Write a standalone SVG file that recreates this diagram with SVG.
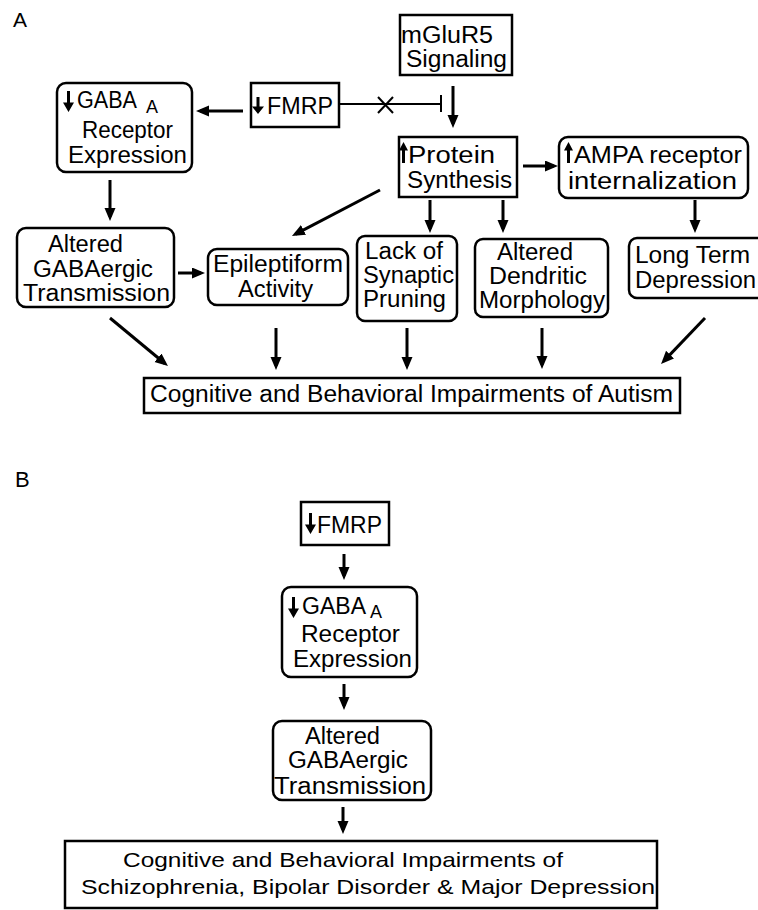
<svg xmlns="http://www.w3.org/2000/svg" width="758" height="910" viewBox="0 0 758 910">
<style>
text{font-family:"Liberation Sans",Arial,sans-serif;font-size:23px;fill:#000}
.box{fill:#fff;stroke:#000;stroke-width:2.5}
.arr{stroke:#000;stroke-width:3;fill:none;marker-end:url(#ah)}
.thin{stroke:#000;stroke-width:2;fill:none}
.sym{fill:#000;stroke:none}
.sub{font-size:18px}
.small{font-size:21px}
</style>
<defs>
<marker id="ah" markerUnits="userSpaceOnUse" markerWidth="14" markerHeight="12" refX="9" refY="5.5" orient="auto">
<path d="M0,0 L13,5.5 L0,11 z" fill="#000"/>
</marker>
</defs>
<rect width="758" height="910" fill="#fff"/>
<text x="13" y="27" style="font-size:21px">A</text>
<text x="15" y="487" style="font-size:22px">B</text>

<g id="connectors">
<line class="arr" x1="243" y1="111" x2="200" y2="111"/>
<line class="arr" x1="453" y1="86" x2="453" y2="124"/>
<line class="thin" x1="340" y1="104" x2="441" y2="104"/>
<line class="thin" x1="441" y1="95" x2="441" y2="112"/>
<line class="thin" x1="378" y1="97" x2="393" y2="113"/>
<line class="thin" x1="378" y1="113" x2="393" y2="97"/>
<line class="arr" x1="523" y1="166" x2="554" y2="166"/>
<line class="arr" x1="380" y1="190" x2="295.5" y2="234.1"/>
<line class="arr" x1="430" y1="200" x2="430" y2="229"/>
<line class="arr" x1="503" y1="200" x2="503" y2="229"/>
<line class="arr" x1="695" y1="200" x2="695" y2="229"/>
<line class="arr" x1="110" y1="180" x2="110" y2="217"/>
<line class="arr" x1="178" y1="273" x2="201" y2="273"/>
<line class="arr" x1="110" y1="318" x2="164.9" y2="363.5"/>
<line class="arr" x1="276" y1="328" x2="276" y2="366"/>
<line class="arr" x1="407" y1="328" x2="407" y2="366"/>
<line class="arr" x1="542" y1="328" x2="542" y2="365"/>
<line class="arr" x1="705" y1="318" x2="663.8" y2="361.1"/>
<line class="arr" x1="344" y1="554" x2="344" y2="576"/>
<line class="arr" x1="344" y1="684" x2="344" y2="706"/>
<line class="arr" x1="343" y1="807" x2="343" y2="830"/>
</g>

<g id="mglur5">
<rect class="box" x="400" y="15" width="112" height="60"/>
<text><tspan x="401" y="43" textLength="92" lengthAdjust="spacingAndGlyphs">mGluR5</tspan><tspan x="406" y="67" textLength="101" lengthAdjust="spacingAndGlyphs">Signaling</tspan></text>
</g>

<g id="fmrp-a">
<rect class="box" x="251" y="83" width="88" height="44"/>
<path class="sym" d="M256.5,97 H259.5 V106.4 H264 L258,114 L252,106.4 H256.5 Z"/>
<text x="267" y="114" textLength="66" lengthAdjust="spacingAndGlyphs">FMRP</text>
</g>

<g id="gaba-a">
<rect class="box" x="57" y="83" width="135" height="89" rx="9"/>
<path class="sym" d="M67,91 H70 V102.6 H74 L68.5,112 L63,102.6 H67 Z"/>
<text><tspan x="77" y="108" textLength="60" lengthAdjust="spacingAndGlyphs">GABA</tspan><tspan class="sub" x="146" y="113">A</tspan><tspan x="82" y="138" textLength="91" lengthAdjust="spacingAndGlyphs">Receptor</tspan><tspan x="68" y="163" textLength="119" lengthAdjust="spacingAndGlyphs">Expression</tspan></text>
</g>

<g id="protein">
<rect class="box" x="399" y="137" width="118" height="60"/>
<path class="sym" d="M403.5,142 L408,150.4 H405 V163 H402 V150.4 H399 Z"/>
<text><tspan x="408" y="163" textLength="87" lengthAdjust="spacingAndGlyphs">Protein</tspan><tspan x="407" y="188" textLength="105" lengthAdjust="spacingAndGlyphs">Synthesis</tspan></text>
</g>

<g id="ampa">
<rect class="box" x="559" y="137" width="189" height="61" rx="9"/>
<path class="sym" d="M568.5,142 L573,150.4 H570 V163 H567 V150.4 H564 Z"/>
<text><tspan x="574" y="163" textLength="168" lengthAdjust="spacingAndGlyphs">AMPA receptor</tspan><tspan x="568" y="189" textLength="169" lengthAdjust="spacingAndGlyphs">internalization</tspan></text>
</g>

<g id="altered-gaba-a">
<rect class="box" x="17" y="228" width="157" height="79" rx="9"/>
<text><tspan x="48" y="252" textLength="75" lengthAdjust="spacingAndGlyphs">Altered</tspan><tspan x="33" y="277" textLength="120" lengthAdjust="spacingAndGlyphs">GABAergic</tspan><tspan x="23" y="301" textLength="147" lengthAdjust="spacingAndGlyphs">Transmission</tspan></text>
</g>

<g id="epileptiform">
<rect class="box" x="208" y="249" width="140" height="56" rx="9"/>
<text><tspan x="213" y="272" textLength="130" lengthAdjust="spacingAndGlyphs">Epileptiform</tspan><tspan x="238" y="297" textLength="75" lengthAdjust="spacingAndGlyphs">Activity</tspan></text>
</g>

<g id="pruning">
<rect class="box" x="357" y="236" width="100" height="85" rx="8"/>
<text><tspan x="365" y="259" textLength="78" lengthAdjust="spacingAndGlyphs">Lack of</tspan><tspan x="363" y="283" textLength="91" lengthAdjust="spacingAndGlyphs">Synaptic</tspan><tspan x="363" y="307" textLength="83" lengthAdjust="spacingAndGlyphs">Pruning</tspan></text>
</g>

<g id="dendritic">
<rect class="box" x="475" y="239" width="133" height="78" rx="8"/>
<text><tspan x="497" y="260" textLength="76" lengthAdjust="spacingAndGlyphs">Altered</tspan><tspan x="489" y="284" textLength="98" lengthAdjust="spacingAndGlyphs">Dendritic</tspan><tspan x="479" y="308" textLength="126" lengthAdjust="spacingAndGlyphs">Morphology</tspan></text>
</g>

<g id="ltd">
<rect class="box" x="629" y="238" width="140" height="60" rx="8"/>
<text><tspan x="635" y="263" textLength="115" lengthAdjust="spacingAndGlyphs">Long Term</tspan><tspan x="635" y="288" textLength="121" lengthAdjust="spacingAndGlyphs">Depression</tspan></text>
</g>

<g id="autism">
<rect class="box" x="144" y="378" width="536" height="35"/>
<text x="150" y="402" textLength="523" lengthAdjust="spacingAndGlyphs">Cognitive and Behavioral Impairments of Autism</text>
</g>

<g id="fmrp-b">
<rect class="box" x="301" y="502" width="88" height="43"/>
<path class="sym" d="M309,513 H312 V524.6 H316 L310.5,534 L305,524.6 H309 Z"/>
<text x="317" y="533" textLength="65" lengthAdjust="spacingAndGlyphs">FMRP</text>
</g>

<g id="gaba-b">
<rect class="box" x="282" y="587" width="135" height="90" rx="9"/>
<path class="sym" d="M292,597 H295 V608.6 H299 L293.5,618 L288,608.6 H292 Z"/>
<text><tspan x="302" y="614" textLength="64" lengthAdjust="spacingAndGlyphs">GABA</tspan><tspan class="sub" x="370" y="618">A</tspan><tspan x="301" y="642" textLength="99" lengthAdjust="spacingAndGlyphs">Receptor</tspan><tspan x="293" y="667" textLength="119" lengthAdjust="spacingAndGlyphs">Expression</tspan></text>
</g>

<g id="altered-gaba-b">
<rect class="box" x="273" y="721" width="158" height="79" rx="9"/>
<text><tspan x="305" y="744" textLength="75" lengthAdjust="spacingAndGlyphs">Altered</tspan><tspan x="288" y="768" textLength="120" lengthAdjust="spacingAndGlyphs">GABAergic</tspan><tspan x="274" y="794" textLength="152" lengthAdjust="spacingAndGlyphs">Transmission</tspan></text>
</g>

<g id="schizophrenia">
<rect class="box" x="65" y="841" width="592" height="67"/>
<text class="small"><tspan x="123" y="867" textLength="440" lengthAdjust="spacingAndGlyphs">Cognitive and Behavioral Impairments of</tspan><tspan x="81" y="894" textLength="574" lengthAdjust="spacingAndGlyphs">Schizophrenia, Bipolar Disorder &amp; Major Depression</tspan></text>
</g>
</svg>
